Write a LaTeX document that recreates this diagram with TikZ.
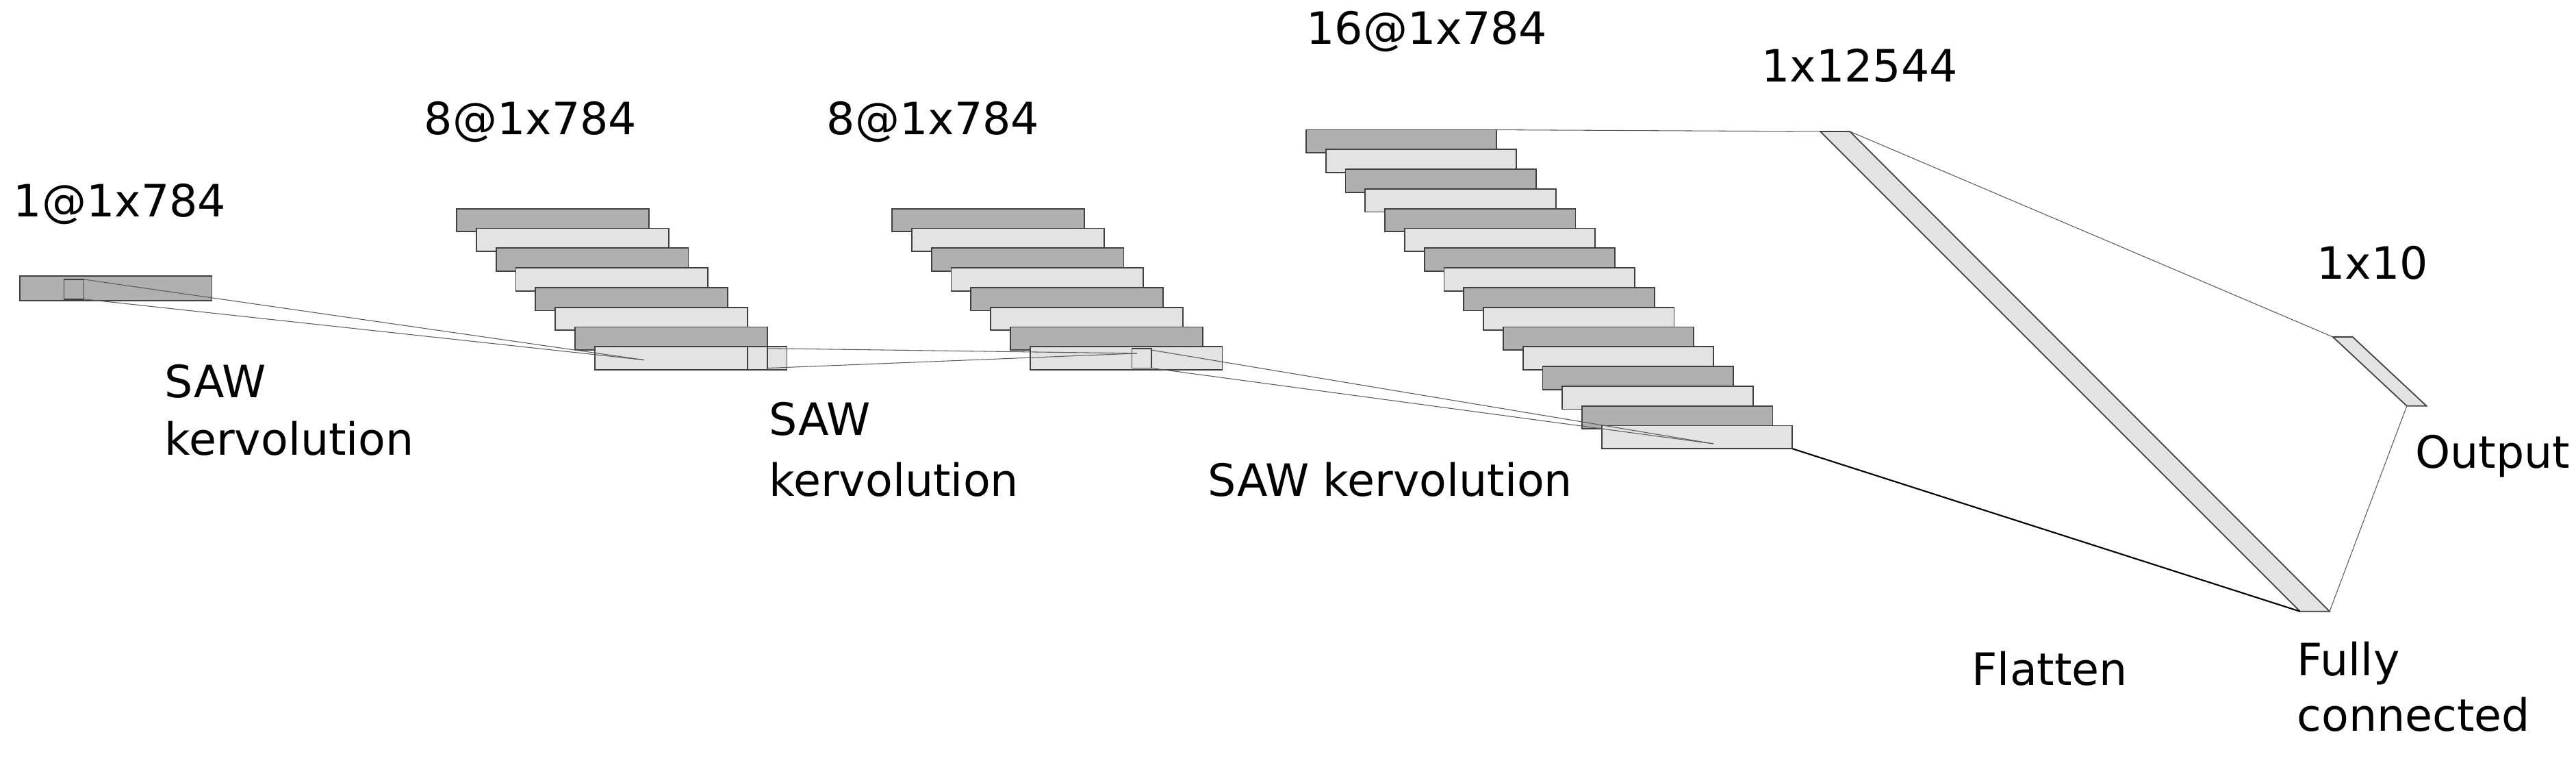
\documentclass[tikz,border=0pt]{standalone}
\usepackage{fontspec}
\setmainfont{DejaVu Sans}
\begin{document}
\begin{tikzpicture}[x=0.024cm,y=-0.024cm,
  lbl/.style={font=\fontsize{18.5}{22}\selectfont,anchor=base west,inner sep=0},
  dk/.style={draw=black!75,fill=black!31,line width=0.5pt},
  lt/.style={draw=black!75,fill=black!11,line width=0.5pt},
  sq/.style={draw=black!75,line width=0.5pt},
  ln/.style={draw=black!65,line width=0.3pt}]
\useasboundingbox (0,0) rectangle (1568,465.4);
% input
\draw[dk] (12,168) rectangle (129,183);
\draw[sq] (39,170) rectangle (51,182);
\coordinate (inA) at (51,170); \coordinate (inB) at (51,182);
% stack 1
\foreach \i in {0,...,7}{
  \pgfmathtruncatemacro\m{mod(\i,2)}
  \ifnum\m=0 \def\st{dk}\else\def\st{lt}\fi
  \draw[\st] (278+12*\i,127+12*\i) rectangle ++(117,14);}
\draw[sq] (455,211) rectangle (467,225);
\coordinate (s1A) at (467,212); \coordinate (s1B) at (467,224);
\coordinate (s1t) at (392,219);
% stack 2
\foreach \i in {0,...,7}{
  \pgfmathtruncatemacro\m{mod(\i,2)}
  \ifnum\m=0 \def\st{dk}\else\def\st{lt}\fi
  \draw[\st] (543+12*\i,127+12*\i) rectangle ++(117,14);}
\draw[sq] (689,212) rectangle (701,224);
\coordinate (s2A) at (701,213); \coordinate (s2B) at (701,224);
\coordinate (s2t) at (692,215);
% stack 3
\foreach \i in {0,...,15}{
  \pgfmathtruncatemacro\m{mod(\i,2)}
  \ifnum\m=0 \def\st{dk}\else\def\st{lt}\fi
  \draw[\st] (795+12*\i,79+12*\i) rectangle ++(116,14);}
\coordinate (s3t) at (1043,270);
\coordinate (s3TR) at (911,79); \coordinate (s3BR) at (1091,273);
% flatten bar
\draw[lt] (1108,80) -- (1126,80) -- (1418,372) -- (1400,372) -- cycle;
\coordinate (fTL) at (1108,80); \coordinate (fTR) at (1126,80);
\coordinate (fBL) at (1400,372); \coordinate (fBR) at (1418,372);
% output bar
\draw[lt] (1420,205) -- (1432,205) -- (1477,247) -- (1465,247) -- cycle;
\coordinate (oT) at (1420,205); \coordinate (oB) at (1465,247);
% connectors
\draw[ln] (inA) -- (s1t); \draw[ln] (inB) -- (s1t);
\draw[ln] (s1A) -- (s2t); \draw[ln] (s1B) -- (s2t);
\draw[ln] (s2A) -- (s3t); \draw[ln] (s2B) -- (s3t);
\draw[ln] (s3TR) -- (fTL);
\draw[black,line width=0.6pt] (s3BR) -- (fBL);
\draw[ln] (fTR) -- (oT);
\draw[ln] (fBR) -- (oB);
% labels
\node[lbl] (l1) at (8,132) {1@1x784};
\node[lbl] (l2) at (258,82) {8@1x784};
\node[lbl] (l3) at (503,82) {8@1x784};
\node[lbl] (l4) at (795,27) {16@1x784};
\node[lbl] (l5) at (1072,50) {1x12544};
\node[lbl] (l6) at (1410,170) {1x10};
\node[lbl] (k1) at (100,242) {SAW};
\node[lbl] (k1b) at (100,277) {kervolution};
\node[lbl] (k2) at (468,265) {SAW};
\node[lbl] (k2b) at (468,302) {kervolution};
\node[lbl] (k3) at (735,302) {SAW kervolution};
\node[lbl] (fl) at (1200,417) {Flatten};
\node[lbl] (fc) at (1398,411) {Fully};
\node[lbl] (fcb) at (1398,445) {connected};
\node[lbl] (op) at (1470,285) {Output};
\end{tikzpicture}
\end{document}
